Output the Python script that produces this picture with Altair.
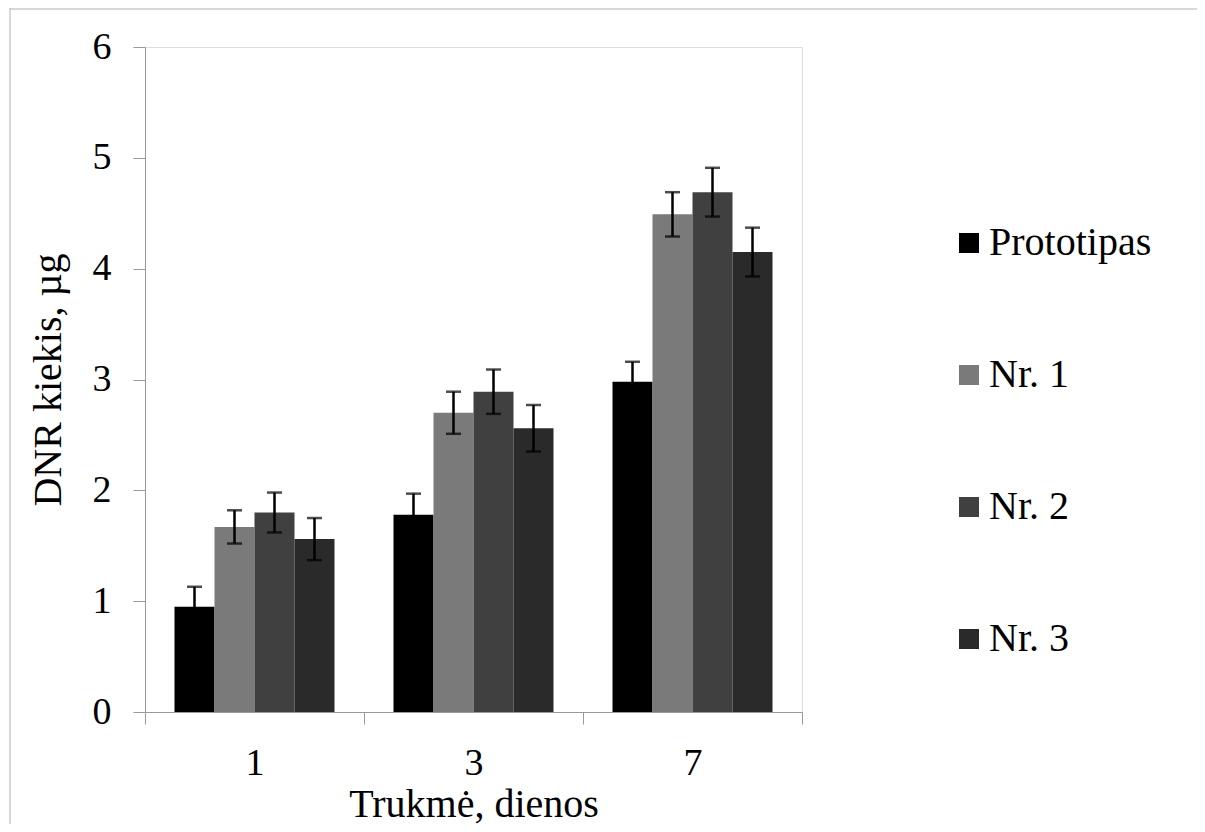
import altair as alt
import pandas as pd

days = ["1", "3", "7"]
series = ["Prototipas", "Nr. 1", "Nr. 2", "Nr. 3"]
values = {
    "Prototipas": [0.95, 1.78, 2.98],
    "Nr. 1": [1.67, 2.70, 4.49],
    "Nr. 2": [1.80, 2.89, 4.69],
    "Nr. 3": [1.56, 2.56, 4.15],
}
errors = {
    "Prototipas": [0.18, 0.19, 0.18],
    "Nr. 1": [0.15, 0.19, 0.20],
    "Nr. 2": [0.18, 0.20, 0.22],
    "Nr. 3": [0.19, 0.21, 0.22],
}
colors = ["#000000", "#7a7a7a", "#404040", "#2a2a2a"]

rows = []
for s in series:
    for i, d in enumerate(days):
        v = values[s][i]
        e = errors[s][i]
        rows.append({"day": d, "series": s, "value": v, "lo": v - e, "hi": v + e})
df = pd.DataFrame(rows)

FONT = "Liberation Serif"

x = alt.X("day:N", sort=days, title="Trukmė, dienos",
          scale=alt.Scale(paddingInner=0, paddingOuter=0),
          axis=alt.Axis(labelAngle=0, tickBand="extent", tickSize=12,
                        labelPadding=20, titlePadding=2,
                        labelFont=FONT, labelFontSize=38, titleFont=FONT,
                        titleFontSize=40, titleFontWeight="normal",
                        labelColor="black", titleColor="black",
                        domainColor="#999999", tickColor="#999999"))
xo = alt.XOffset("series:N", sort=series,
                 scale=alt.Scale(paddingInner=0, paddingOuter=0.7375))

bars = alt.Chart(df).mark_bar().encode(
    x=x,
    xOffset=xo,
    y=alt.Y("value:Q", title="DNR kiekis, µg",
            scale=alt.Scale(domain=[0, 6], nice=False),
            axis=alt.Axis(values=[0, 1, 2, 3, 4, 5, 6], format="d", grid=False,
                          tickSize=12, labelPadding=22, titlePadding=24,
                          labelFont=FONT, labelFontSize=38, titleFont=FONT,
                          titleFontSize=40, titleFontWeight="normal",
                          labelColor="black", titleColor="black",
                          domainColor="#999999", tickColor="#999999")),
    color=alt.Color("series:N", sort=series,
                    scale=alt.Scale(domain=series, range=colors),
                    legend=alt.Legend(title=None, orient="none", legendX=804,
                                      legendY=176, symbolType="square",
                                      symbolSize=400, symbolStrokeWidth=0,
                                      labelFont=FONT, labelFontSize=40,
                                      labelColor="black", labelOffset=0,
                                      labelLimit=400,
                                      rowPadding=92, padding=0)),
)

rules = alt.Chart(df).mark_rule(color="black", strokeWidth=2.5).encode(
    x=alt.X("day:N", sort=days),
    xOffset=xo,
    y="lo:Q",
    y2="hi:Q",
)
caps_hi = alt.Chart(df).mark_tick(color="black", thickness=2.5, size=15).encode(
    x=alt.X("day:N", sort=days),
    xOffset=xo,
    y="hi:Q",
)
caps_lo = alt.Chart(df).mark_tick(color="black", thickness=2.5, size=15).encode(
    x=alt.X("day:N", sort=days),
    xOffset=xo,
    y="lo:Q",
)

frame_df = pd.DataFrame({"k": [0]})
frame_left = alt.Chart(frame_df).mark_rule(color="#b0b0b0", strokeWidth=1).encode(
    x=alt.value(-135), y=alt.value(-39), y2=alt.value(780))
frame_top = alt.Chart(frame_df).mark_rule(color="#b0b0b0", strokeWidth=1).encode(
    x=alt.value(-135), x2=alt.value(1060), y=alt.value(-38))

chart = alt.layer(bars, rules, caps_hi, caps_lo, frame_left, frame_top).properties(
    width=657, height=665,
    autosize=alt.AutoSizeParams(type="none"),
    padding={"left": 137, "top": 39, "right": 395, "bottom": 112},
).configure_view(stroke=None).configure(background="white")

chart.save("out.html", embed_options={"renderer": "svg", "actions": False})
